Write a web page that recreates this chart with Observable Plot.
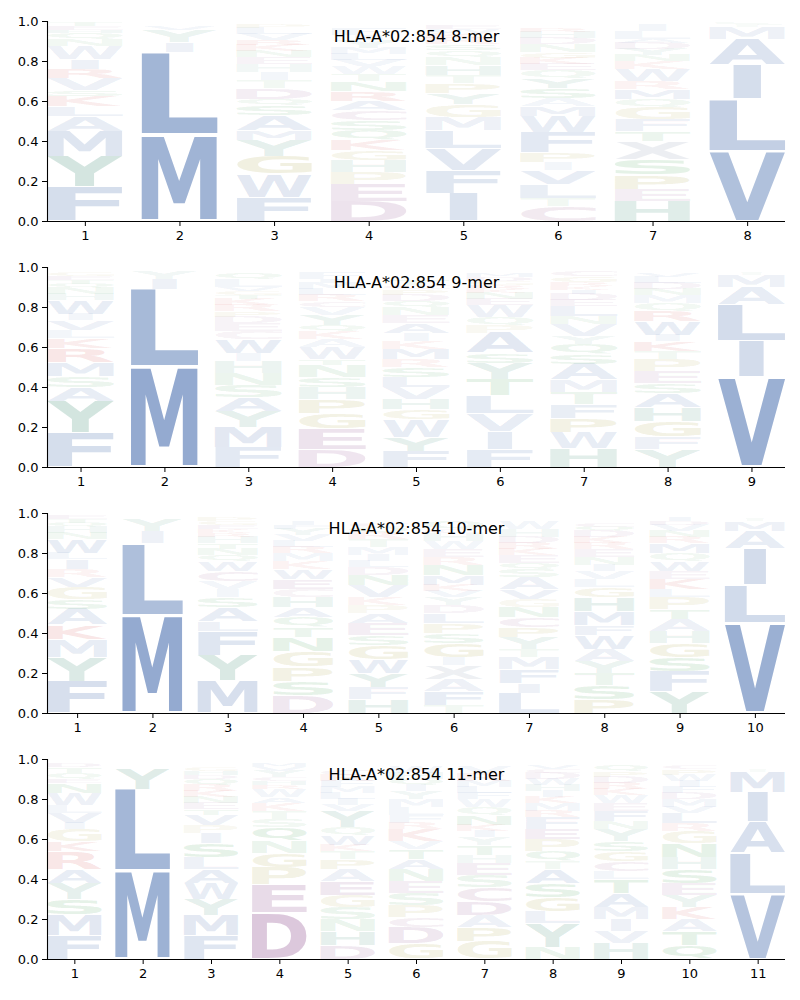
<!DOCTYPE html>
<html>
<head>
<meta charset="utf-8">
<script src="https://cdn.jsdelivr.net/npm/d3@7"></script>
<script src="https://cdn.jsdelivr.net/npm/@observablehq/plot@0.6"></script>
<style>
  html, body { margin: 0; padding: 0; background: white; }
  #chart svg { display: block; }
</style>
</head>
<body>
<div id="chart"></div>
<script>
// ---------- data (letter, height), listed bottom to top ----------
const panelTitles = ["HLA-A*02:854 8-mer", "HLA-A*02:854 9-mer", "HLA-A*02:854 10-mer", "HLA-A*02:854 11-mer"];
const yTicks = [0, 0.2, 0.4, 0.6, 0.8, 1.0];

const mer8 = [
  [["F",.17],["Y",.155],["M",.125],["A",.075],["L",.05],["K",.05],["S",.03],["V",.06],["R",.045],["I",.05],["W",.065],["N",.035],["Q",.03],["H",.015],["E",.02],["T",.02]],
  [["M",.43],["L",.415],["I",.05],["Y",.06],["V",.02]],
  [["F",.12],["W",.115],["G",.09],["Y",.08],["M",.05],["A",.075],["S",.05],["Q",.03],["D",.055],["T",.04],["I",.04],["H",.04],["E",.035],["N",.03],["K",.03],["R",.025],["V",.03],["L",.03],["P",.02]],
  [["D",.1],["E",.085],["P",.06],["H",.06],["G",.05],["K",.05],["Q",.05],["S",.05],["C",.05],["A",.045],["R",.05],["N",.05],["T",.035],["W",.04],["V",.03],["L",.03],["M",.03],["Y",.04],["I",.025],["F",.03]],
  [["I",.14],["F",.115],["V",.11],["L",.09],["M",.065],["G",.065],["Y",.055],["P",.05],["T",.04],["H",.05],["N",.04],["Q",.035],["S",.03],["R",.03],["K",.025],["W",.02],["E",.02]],
  [["C",.075],["T",.04],["L",.07],["V",.07],["I",.04],["P",.05],["F",.1],["W",.08],["M",.05],["A",.04],["S",.05],["Y",.05],["Q",.04],["E",.03],["K",.03],["G",.03],["N",.04],["D",.03],["H",.03],["R",.02]],
  [["H",.1],["E",.06],["P",.07],["S",.08],["X",.09],["T",.05],["F",.06],["G",.06],["Q",.04],["M",.05],["R",.04],["W",.06],["K",.04],["N",.03],["Y",.03],["D",.03],["A",.02],["L",.04],["I",.03]],
  [["V",.35],["L",.26],["I",.17],["A",.13],["M",.06],["T",.01],["S",.01]]
];

const mer9 = [
  [["F",.17],["Y",.16],["A",.07],["S",.055],["M",.07],["R",.07],["K",.05],["L",.04],["V",.05],["I",.03],["W",.07],["H",.03],["N",.03],["Q",.02],["T",.02],["E",.02],["G",.02]],
  [["M",.5],["L",.39],["I",.05],["Y",.04]],
  [["F",.1],["M",.1],["Y",.08],["A",.07],["S",.06],["N",.06],["H",.06],["I",.04],["W",.07],["C",.04],["E",.04],["D",.03],["P",.03],["R",.03],["K",.03],["T",.02],["G",.02],["V",.02],["L",.04],["Q",.03]],
  [["D",.09],["E",.1],["G",.08],["P",.07],["H",.06],["S",.05],["N",.06],["T",.03],["W",.06],["A",.04],["K",.04],["Q",.03],["Y",.05],["V",.04],["C",.03],["R",.03],["L",.03],["M",.03],["I",.02],["F",.03]],
  [["F",.08],["Y",.07],["W",.09],["G",.05],["H",.05],["V",.06],["L",.05],["S",.05],["R",.04],["M",.05],["K",.04],["I",.04],["A",.05],["E",.04],["N",.04],["Q",.03],["D",.03],["P",.03],["C",.02],["T",.03]],
  [["F",.09],["I",.09],["V",.09],["L",.09],["T",.08],["Y",.08],["S",.05],["A",.1],["P",.04],["Q",.04],["W",.06],["E",.03],["N",.03],["K",.02],["R",.02],["G",.02],["D",.02],["M",.02]],
  [["H",.095],["W",.08],["P",.07],["F",.07],["T",.06],["M",.06],["A",.08],["S",.05],["Q",.05],["Y",.04],["V",.06],["N",.04],["L",.05],["E",.03],["D",.03],["I",.02],["K",.02],["R",.02],["G",.03],["C",.03]],
  [["Y",.09],["F",.06],["G",.08],["H",.07],["A",.07],["S",.05],["E",.06],["P",.06],["T",.04],["K",.05],["I",.03],["W",.07],["R",.05],["Q",.04],["M",.04],["N",.03],["D",.03],["L",.03],["V",.02]],
  [["V",.45],["I",.18],["L",.18],["A",.09],["M",.06],["T",.01]]
];

const mer10 = [
  [["F",.16],["Y",.12],["M",.09],["K",.07],["A",.08],["S",.05],["G",.06],["V",.05],["R",.04],["I",.05],["L",.03],["W",.07],["N",.03],["H",.03],["Q",.02],["T",.02],["E",.02]],
  [["M",.49],["L",.36],["I",.06],["Y",.06]],
  [["M",.16],["Y",.13],["F",.12],["L",.05],["A",.07],["S",.05],["I",.04],["V",.04],["C",.05],["W",.05],["Q",.03],["N",.03],["T",.03],["H",.03],["R",.02],["K",.02],["E",.02],["G",.02],["P",.02]],
  [["D",.09],["S",.07],["P",.07],["G",.08],["N",.07],["T",.05],["Q",.05],["A",.05],["H",.05],["C",.04],["E",.05],["W",.05],["K",.04],["M",.04],["R",.03],["L",.03],["V",.03],["Y",.03],["F",.02],["I",.02]],
  [["H",.07],["F",.06],["Y",.07],["W",.07],["G",.07],["S",.05],["E",.06],["A",.05],["P",.04],["K",.04],["V",.06],["N",.05],["D",.04],["L",.03],["I",.03],["M",.04],["T",.04],["R",.03],["Q",.03],["C",.02]],
  [["T",.04],["F",.07],["A",.06],["X",.07],["I",.04],["G",.07],["S",.05],["P",.05],["L",.05],["D",.04],["Y",.04],["V",.03],["K",.03],["M",.05],["N",.05],["R",.04],["E",.04],["W",.04],["H",.04],["C",.02],["Q",.04]],
  [["L",.1],["I",.05],["F",.07],["M",.06],["T",.04],["Y",.06],["P",.05],["C",.05],["N",.05],["G",.04],["V",.05],["A",.06],["S",.04],["Q",.03],["E",.04],["K",.03],["R",.03],["D",.03],["H",.04],["W",.04]],
  [["P",.07],["S",.07],["T",.06],["Y",.06],["A",.06],["W",.07],["F",.05],["M",.07],["H",.07],["G",.05],["L",.04],["V",.04],["I",.03],["N",.04],["E",.04],["R",.03],["K",.03],["D",.03],["Q",.02],["C",.02]],
  [["Y",.11],["F",.1],["S",.07],["G",.07],["H",.06],["A",.06],["T",.05],["P",.06],["L",.04],["K",.05],["E",.04],["W",.05],["Q",.04],["M",.05],["R",.03],["N",.03],["V",.03],["D",.02],["I",.02]],
  [["V",.45],["L",.19],["I",.18],["A",.09],["M",.05],["T",.01]]
];

const mer11 = [
  [["F",.12],["M",.1],["S",.08],["Y",.08],["A",.07],["R",.09],["K",.05],["G",.06],["I",.03],["V",.05],["L",.04],["W",.06],["N",.05],["E",.02],["Q",.03],["T",.03],["D",.02]],
  [["M",.44],["L",.41],["Y",.1]],
  [["F",.12],["M",.1],["Y",.08],["W",.08],["A",.07],["L",.06],["S",.07],["I",.05],["P",.04],["V",.05],["T",.03],["E",.03],["N",.03],["K",.03],["R",.03],["Q",.03],["D",.02],["H",.02],["G",.02]],
  [["D",.23],["E",.14],["P",.09],["G",.07],["N",.06],["Q",.07],["S",.04],["T",.04],["K",.04],["A",.03],["W",.04],["R",.02],["H",.02],["C",.02],["Y",.03],["V",.02],["M",.02]],
  [["D",.07],["H",.07],["N",.06],["S",.06],["G",.06],["E",.07],["A",.06],["P",.05],["T",.04],["K",.03],["W",.05],["Q",.04],["Y",.08],["V",.03],["I",.03],["L",.03],["M",.03],["F",.03],["R",.03],["C",.03]],
  [["G",.08],["D",.08],["C",.05],["P",.06],["S",.06],["E",.06],["N",.06],["A",.05],["T",.05],["V",.04],["K",.06],["R",.03],["F",.04],["L",.04],["M",.04],["Y",.04],["I",.03],["Q",.03],["H",.03],["W",.03]],
  [["G",.09],["P",.07],["A",.06],["D",.07],["C",.07],["S",.06],["E",.06],["H",.04],["T",.05],["Y",.04],["I",.03],["K",.03],["N",.05],["Q",.04],["W",.04],["F",.03],["L",.03],["M",.03],["R",.04],["V",.03]],
  [["N",.06],["Y",.12],["L",.06],["G",.07],["S",.07],["A",.07],["T",.04],["Q",.05],["P",.06],["E",.05],["F",.06],["R",.03],["M",.04],["K",.03],["I",.03],["H",.03],["W",.03],["D",.03],["C",.02],["V",.02]],
  [["H",.08],["V",.06],["I",.06],["M",.06],["A",.07],["T",.07],["L",.04],["C",.05],["G",.05],["S",.05],["Y",.06],["N",.04],["F",.05],["E",.04],["W",.04],["K",.03],["R",.03],["D",.03],["P",.03],["Q",.03]],
  [["Q",.07],["T",.07],["A",.06],["K",.06],["Y",.06],["E",.06],["S",.07],["H",.06],["N",.07],["G",.06],["R",.04],["L",.05],["V",.03],["M",.04],["D",.03],["F",.03],["I",.03],["W",.03],["P",.03],["C",.02]],
  [["V",.325],["L",.205],["A",.155],["I",.15],["M",.1],["T",.01]]
];

const panels = [mer8, mer9, mer10, mer11];

// ---------- styles ----------
const letterColors = {
  A: "#4C72B0", V: "#4C72B0", L: "#4C72B0", I: "#4C72B0", M: "#4C72B0", F: "#4C72B0", W: "#4C72B0",
  Y: "#3a8a70", H: "#3a8a70",
  G: "#a09a30", P: "#a09a30",
  S: "#3a9a4a", T: "#3a9a4a", N: "#3a9a4a", Q: "#3a9a4a",
  D: "#8e4a8e", E: "#8e4a8e", C: "#9a5a8e",
  K: "#d04040", R: "#d04040",
  X: "#7d8ba3"
};
const FONT_FAMILY = "DejaVu Sans";
const VPAD = 0.02;
const HALF_WIDTH = 0.4;
const STRETCH_REF = "E";   // no glyph is stretched horizontally more than this one

// glyph ink metrics from canvas
const mctx = document.createElement("canvas").getContext("2d");
mctx.font = `bold 100px '${FONT_FAMILY}'`;
const metricCache = {};
function glyph(ch) {
  if (!metricCache[ch]) {
    const m = mctx.measureText(ch);
    metricCache[ch] = {l: m.actualBoundingBoxLeft, r: m.actualBoundingBoxRight, a: m.actualBoundingBoxAscent, d: m.actualBoundingBoxDescent};
  }
  return metricCache[ch];
}

function stackRows(mer) {
  const rows = [];
  mer.forEach((stack, k) => {
    let cum = 0;
    for (const [letter, h] of stack) {
      rows.push({pos: k + 1, letter, h, y0: cum + VPAD * h, y1: cum + h - VPAD * h});
      cum += h;
    }
  });
  return rows;
}

function logoMark(rows) {
  return Plot.rect(rows, {
    x1: d => d.pos - HALF_WIDTH,
    x2: d => d.pos + HALF_WIDTH,
    y1: "y0",
    y2: "y1",
    render(index, scales, values) {
      const g = d3.create("svg:g").attr("aria-label", "logo letters").attr("text-anchor", "start");
      const ref = glyph(STRETCH_REF);
      for (const i of index) {
        const r = rows[i];
        const X1 = values.x1[i], X2 = values.x2[i];
        const Yb = values.y1[i], Yt = values.y2[i];
        const m = glyph(r.letter);
        const W = X2 - X1;
        const inkW = m.l + m.r;
        const sx = Math.min(W / inkW, W / (ref.l + ref.r));
        const sy = (Yb - Yt) / (m.a + m.d);
        const left = X1 + (W - inkW * sx) / 2;
        const alpha = Math.min(0.6, 0.04 + 1.15 * r.h);
        g.append("text")
          .attr("x", 0).attr("y", 0)
          .attr("text-anchor", "start")
          .attr("font-family", FONT_FAMILY)
          .attr("font-weight", "bold")
          .attr("font-size", 100)
          .attr("fill", letterColors[r.letter] || "#888")
          .attr("fill-opacity", alpha)
          .attr("transform", `translate(${left + m.l * sx},${Yb - m.d * sy}) scale(${sx},${sy})`)
          .text(r.letter);
      }
      return g.node();
    }
  });
}

const chart = document.getElementById("chart");
panels.forEach((mer, p) => {
  const n = mer.length;
  const rows = stackRows(mer);
  const plot = Plot.plot({
    width: 800,
    height: 246,
    marginTop: 21,
    marginBottom: 25,
    marginLeft: 47,
    marginRight: 15,
    style: {fontFamily: FONT_FAMILY, fontSize: "13px", color: "black", background: "white", overflow: "visible"},
    x: {type: "linear", domain: [1 - HALF_WIDTH, n + HALF_WIDTH]},
    y: {domain: [0, 1]},
    marks: [
      logoMark(rows),
      Plot.axisY({ticks: yTicks, tickFormat: d3.format(".1f"), tickSize: 5, tickPadding: 4, label: null, stroke: "black"}),
      Plot.axisX({ticks: d3.range(1, n + 1), tickFormat: d3.format("d"), tickSize: 5, tickPadding: 4, label: null, stroke: "black"}),
      Plot.ruleY([0], {stroke: "black", strokeWidth: 1.1}),
      Plot.ruleX([1 - HALF_WIDTH], {stroke: "black", strokeWidth: 1.1}),
      Plot.text([panelTitles[p]], {text: d => d, frameAnchor: "top", dy: 15, lineAnchor: "middle", fontSize: 16, fill: "black"})
    ]
  });
  chart.appendChild(plot);
});
</script>
</body>
</html>
